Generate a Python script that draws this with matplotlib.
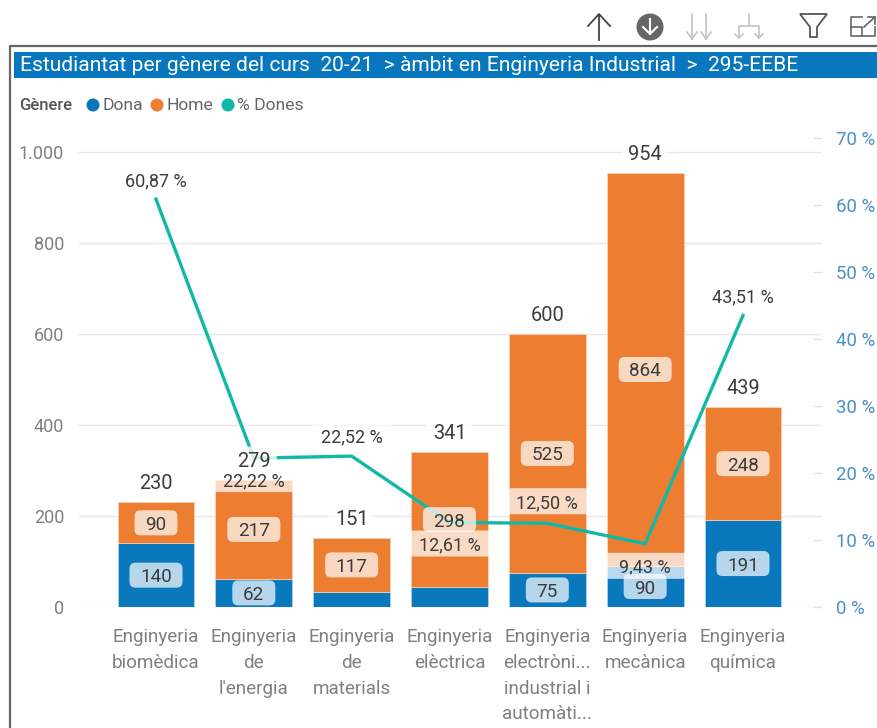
import matplotlib
matplotlib.use('Agg')
import matplotlib.pyplot as plt
from matplotlib.patches import Rectangle, Polygon, Circle, FancyBboxPatch
from matplotlib.transforms import IdentityTransform

plt.rcParams['font.family'] = ['Roboto', 'DejaVu Sans']

W, H = 877, 728

categories = ['Enginyeria\nbiomèdica', 'Enginyeria\nde\nl\'energia', 'Enginyeria\nde\nmaterials',
              'Enginyeria\nelèctrica', 'Enginyeria\nelectròni...\nindustrial i\nautomàti...',
              'Enginyeria\nmecànica', 'Enginyeria\nquímica']
dona = [140, 62, 34, 43, 75, 90, 191]
home = [90, 217, 117, 298, 525, 864, 248]
total = [230, 279, 151, 341, 600, 954, 439]
pct_dones = [60.87, 22.22, 22.52, 12.61, 12.50, 9.43, 43.51]
pct_labels = ['60,87 %', '22,22 %', '22,52 %', '12,61 %', '12,50 %', '9,43 %', '43,51 %']
show_dona = [True, True, False, False, True, True, True]
left_ticks = [0, 200, 400, 600, 800, 1000]
left_labels = ['0', '200', '400', '600', '800', '1.000']
right_ticks = [0, 10, 20, 30, 40, 50, 60, 70]

BLUE = '#0a78bd'
ORANGE = '#ed7d31'
TEAL = '#10b9a6'
TEXT = '#3c3c3c'
GRAY = '#808080'
AXBLUE = '#4a90c8'

fig = plt.figure(figsize=(W / 100, H / 100), dpi=100)

# overlay in pixel coords for the report frame, header and icons
bg = fig.add_axes([0, 0, 1, 1], zorder=0)
bg.set_xlim(0, W)
bg.set_ylim(H, 0)
bg.axis('off')
bg.plot([10, 10, W], [H, 46, 46], color='#666666', lw=1.6)
bg.add_patch(Rectangle((14, 52), W - 14, 26, color='#0877bd', lw=0))
bg.text(20, 65.5, 'Estudiantat per gènere del curs  20-21  > àmbit en Enginyeria Industrial  >  295-EEBE',
        color='white', fontsize=15.15, va='center', ha='left')

# legend
bg.text(19, 105, 'Gènere', color='#555555', fontsize=12, va='center', fontweight='medium')
for cx, col, name in [(93, BLUE, 'Dona'), (157, ORANGE, 'Home'), (228, TEAL, '% Dones')]:
    bg.add_patch(Circle((cx, 105), 6.5, color=col, lw=0))
    bg.text(cx + 9, 105, name, color='#666666', fontsize=12.6, va='center')

# toolbar icons
ic = '#444444'
lt = '#c4c4c4'
bg.plot([599, 599], [15, 40], color=ic, lw=1.3)
bg.plot([588, 599, 610], [26, 14, 26], color=ic, lw=1.3)
bg.add_patch(Circle((650, 27), 13.5, color='#666666', lw=0))
bg.plot([650, 650], [19, 34], color='white', lw=1.5)
bg.plot([643, 650, 657], [27, 34, 27], color='white', lw=1.5)
for px in (692, 706):
    bg.plot([px, px], [14, 39], color=lt, lw=1.2)
    bg.plot([px - 5, px, px + 5], [32, 39, 32], color=lt, lw=1.2)
bg.plot([749, 749], [14, 26], color=lt, lw=1.2)
bg.plot([739, 739, 759, 759], [38, 26, 26, 38], color=lt, lw=1.2)
for px in (739, 759):
    bg.plot([px - 4, px, px + 4], [34, 38, 34], color=lt, lw=1.2)
bg.add_patch(Polygon([(800, 14), (827, 14), (817, 27), (817, 37), (810, 37), (810, 27)],
                     fill=False, ec='#555555', lw=1.3))
bg.plot([862, 851, 851, 875, 875], [17, 17, 36, 36, 27], color='#666666', lw=1.2)
bg.plot([851, 862, 862], [27, 27, 36], color='#666666', lw=1.2)
bg.plot([864, 875], [27, 17], color='#666666', lw=1.2)
bg.plot([868, 875, 875], [17, 17, 24], color='#666666', lw=1.2)

# plot area: gridlines run 78..822, bar centres 156 + 97.83 * i, y 0 at 607, 1000 at 152
px_left, px_right, px_top, px_bottom = 78, 822, 130, 607
ax = fig.add_axes([px_left / W, 1 - px_bottom / H, (px_right - px_left) / W, (px_bottom - px_top) / H], zorder=1)
ax.patch.set_alpha(0)
y_max = (px_bottom - px_top) / 0.455
ax.set_ylim(0, y_max)
step = 97.83
xlim = ((px_left - 156) / step, (px_right - 156) / step)
ax.set_xlim(*xlim)
for s in ax.spines.values():
    s.set_visible(False)

x = list(range(len(categories)))
bar_w = 0.785
ax.bar(x, dona, bar_w, color=BLUE, edgecolor='#b9d6ea', lw=0.5, zorder=2)
ax.bar(x, home, bar_w, bottom=dona, color=ORANGE, edgecolor='#f8d5bd', lw=0.5, zorder=2)

ax.set_yticks(left_ticks)
ax.set_yticklabels(left_labels, color=GRAY, fontsize=13)
ax.tick_params(axis='y', length=0, pad=10)
ax.set_xticks(x)
ax.set_xticklabels(categories, color=GRAY, fontsize=13.6, linespacing=1.56, va='top')
ax.tick_params(axis='x', length=0, pad=15)
ax.grid(True, axis='y', color='#e8e8e8', lw=1, zorder=1)
ax.set_axisbelow(True)

ax2 = ax.twinx()
ax2.patch.set_alpha(0)
ax2.set_ylim(0, (px_bottom - px_top) / 6.7)
for s in ax2.spines.values():
    s.set_visible(False)
ax2.set_yticks(right_ticks)
ax2.set_yticklabels([f'{t} %' for t in right_ticks], color=AXBLUE, fontsize=13.4)
ax2.tick_params(axis='y', length=6.5, width=1, color='#e3e3e3', direction='in', pad=10)
ax2.plot(x, pct_dones, color=TEAL, lw=2.4, zorder=3, solid_joinstyle='miter')

# everything labelled goes on top of the line
lab = fig.add_axes(ax.get_position(), zorder=3)
lab.patch.set_alpha(0)
lab.set_xlim(*xlim)
lab.set_ylim(0, y_max)
lab.axis('off')


def box(xv, yv, w, h, rounding, alpha, z):
    # w, h in pixels around a data position
    cx, cy = lab.transData.transform((xv, yv))
    lab.add_patch(FancyBboxPatch((cx - w / 2, cy - h / 2), w, h,
                                 boxstyle=f'round,pad=0,rounding_size={rounding}',
                                 fc='white', ec='none', alpha=alpha, zorder=z,
                                 transform=IdentityTransform()))


def pill(xv, yv, txt):
    box(xv, yv, 43 if len(txt) == 2 else 53, 25, 6, 0.7, 3)
    lab.text(xv, yv, txt, ha='center', va='center_baseline', color=TEXT, fontsize=13.6, zorder=4)


# percent labels sit above or below the point
pct_offset = [20, -21, 21, -21, 22, -22, 20]
for i in x:
    yv = pct_dones[i] * 6.7 / 0.455 + pct_offset[i] / 0.455
    box(i, yv, 80, 26, 0.01, 0.72, 2)
    lab.text(i, yv, pct_labels[i], ha='center', va='center_baseline', color=TEXT, fontsize=13, zorder=2.5)

for i in x:
    if show_dona[i]:
        pill(i, dona[i] / 2, str(dona[i]))
    pill(i, dona[i] + home[i] / 2, str(home[i]))
    yt = total[i] + 20.5 / 0.455
    box(i, yt, 46, 26, 0.01, 0.8, 2)
    lab.text(i, yt, str(total[i]), ha='center', va='center_baseline', color=TEXT, fontsize=14.4, zorder=2.5)

fig.savefig('out.png', dpi=100)
